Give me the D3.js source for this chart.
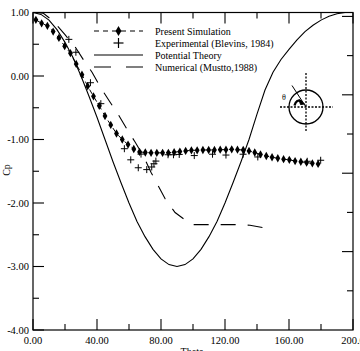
<!DOCTYPE html>
<html><head><meta charset="utf-8">
<script src="https://cdn.jsdelivr.net/npm/d3@7"></script>
<style>body{margin:0;background:#fff}svg{display:block}text{font-family:"Liberation Serif","Times New Roman",serif;fill:#000}</style>
</head><body><svg id="c" width="360" height="351"></svg>
<script>
// ---- data ----
const simTheta = [1.8,5.4,9.0,12.6,16.2,19.8,23.4,27.0,30.6,34.2,37.8,41.4,45.0,48.6,52.2,55.8,59.4,63.0,66.6,70.2,73.8,77.4,81.0,84.6,88.2,91.8,95.4,99.0,102.6,106.2,109.8,113.4,117.0,120.6,124.2,127.8,131.4,135.0,138.6,142.2,145.8,149.4,153.0,156.6,160.2,163.8,167.4,171.0,174.6,178.2];
const simCp = [0.885,0.83,0.79,0.70,0.60,0.47,0.36,0.19,0.02,-0.16,-0.32,-0.47,-0.63,-0.77,-0.905,-1.0,-1.08,-1.15,-1.195,-1.205,-1.21,-1.21,-1.21,-1.21,-1.2,-1.19,-1.18,-1.17,-1.17,-1.165,-1.165,-1.165,-1.16,-1.16,-1.155,-1.16,-1.165,-1.18,-1.205,-1.235,-1.26,-1.28,-1.295,-1.31,-1.32,-1.34,-1.35,-1.365,-1.375,-1.385];
const expTheta = [22.4,26.8,35.9,42.4,57.1,61.1,65.8,71.1,74.2,75.6,76.8,67.5,84.4,87.8,91.4,100.8,112.2,120.6,131.3,140.5,171.4,179.8];
const expCp = [0.577,0.374,-0.106,-0.436,-1.145,-1.32,-1.445,-1.474,-1.433,-1.382,-1.34,-1.23,-1.24,-1.24,-1.235,-1.253,-1.232,-1.245,-1.232,-1.275,-1.343,-1.327];
const potTheta = [0,5,10,15,20,25,30,35,40,45,50,55,60,65,70,75,80,85,90,95,100,105,110,115,120,125,130,135,140,145,150,155,160,165,170,175,180,185,190,195];
const potCp = [1.0,0.97,0.88,0.73,0.53,0.29,0.0,-0.32,-0.65,-1.0,-1.35,-1.68,-2.0,-2.29,-2.53,-2.73,-2.88,-2.97,-3.0,-2.97,-2.88,-2.73,-2.53,-2.29,-2.0,-1.68,-1.35,-1.0,-0.6,-0.22,0.06,0.26,0.42,0.57,0.70,0.80,0.88,0.94,0.98,1.0];
const numTheta = [1.9,6.3,12.5,20,26.3,31.9,36.9,42.5,48.1,53.1,58.8,63.8,68.8,73.8,78.1,82.5,88.8,96.3,99.4,106.3,126.3,135.6,146.3];
const numCp = [1.0,0.99,0.87,0.65,0.46,0.24,0.06,-0.19,-0.41,-0.60,-0.84,-1.04,-1.25,-1.52,-1.72,-1.93,-2.15,-2.29,-2.34,-2.34,-2.34,-2.35,-2.40];
const xTicks = [0,40,80,120,160,200];
const xTickLabels = ["0.00","40.00","80.00","120.00","160.00","200.0"];
const yTicks = [1,0,-1,-2,-3,-4];
const yTickLabels = ["1.00","0.00","-1.00","-2.00","-3.00","-4.00"];
const legendLabels = ["Present Simulation","Experimental (Blevins, 1984)","Potential Theory","Numerical (Mustto,1988)"];

// ---- layout ----
const svg = d3.select("#c");
const L=33, R=353, T=12.5, B=330;
const x = d3.scaleLinear().domain([0,200]).range([L,R]);
const y = d3.scaleLinear().domain([-4,1]).range([B,T]);
const y2 = d3.scaleLinear().domain([0,8.1]).range([B,T]);

// frame
svg.append("rect").attr("x",L).attr("y",T).attr("width",R-L).attr("height",B-T)
  .attr("fill","none").attr("stroke","#000").attr("stroke-width",1.2);

// ticks
const g = svg.append("g").attr("stroke","#000").attr("stroke-width",1.1);
d3.range(0,201,20).forEach(v=>{
  const len = v%40===0?11:6;
  g.append("line").attr("x1",x(v)).attr("x2",x(v)).attr("y1",B).attr("y2",B-len);
  g.append("line").attr("x1",x(v)).attr("x2",x(v)).attr("y1",T).attr("y2",T+len);
});
d3.range(-4,1.01,0.5).forEach(v=>{
  const len = Math.abs(v-Math.round(v))<1e-6?11:6;
  g.append("line").attr("x1",L).attr("x2",L+len).attr("y1",y(v)).attr("y2",y(v));
});
d3.range(1,9).forEach(v=>{
  const len = v%2===0?11:6;
  g.append("line").attr("x1",R).attr("x2",R-len).attr("y1",y2(v)).attr("y2",y2(v));
});

// tick labels
xTicks.forEach((v,i)=>{
  svg.append("text").attr("x",x(v)).attr("y",344).attr("text-anchor","middle")
    .attr("font-size",10.5).text(xTickLabels[i]);
});
yTicks.forEach((v,i)=>{
  svg.append("text").attr("x",29).attr("y",y(v)+3.8).attr("text-anchor","end")
    .attr("font-size",10.5).text(yTickLabels[i]);
});
svg.append("text").attr("x",192).attr("y",355).attr("text-anchor","middle").attr("font-size",10).text("Theta");
svg.append("text").attr("transform","translate(10,170) rotate(-90)").attr("text-anchor","middle").attr("font-size",10).text("Cp");

// lines
const line = d3.line().x(d=>x(d[0])).y(d=>y(d[1]));
svg.append("clipPath").attr("id","pc").append("rect").attr("x",L).attr("y",T).attr("width",R-L).attr("height",B-T);
const pg = svg.append("g").attr("clip-path","url(#pc)");
pg.append("path").datum(potTheta.map((t,i)=>[t,potCp[i]])).attr("d",line)
  .attr("fill","none").attr("stroke","#000").attr("stroke-width",1.1);
pg.append("path").datum(numTheta.map((t,i)=>[t,numCp[i]])).attr("d",line)
  .attr("fill","none").attr("stroke","#000").attr("stroke-width",1.1).attr("stroke-dasharray","15,12");
pg.append("path").datum(simTheta.map((t,i)=>[t,simCp[i]])).attr("d",line)
  .attr("fill","none").attr("stroke","#000").attr("stroke-width",1).attr("stroke-dasharray","5,4");
const diamond = d3.symbol().type(d3.symbolDiamond).size(20);
pg.selectAll(".sim").data(simTheta.map((t,i)=>[t,simCp[i]])).join("path")
  .attr("transform",d=>`translate(${x(d[0])},${y(d[1])})`).attr("d",diamond).attr("fill","#000");
const cross = (gg,cx,cy,s)=>{
  gg.append("line").attr("x1",cx-s).attr("x2",cx+s).attr("y1",cy).attr("y2",cy);
  gg.append("line").attr("x1",cx).attr("x2",cx).attr("y1",cy-s).attr("y2",cy+s);
};
const cg = pg.append("g").attr("stroke","#000").attr("stroke-width",1);
expTheta.forEach((t,i)=>cross(cg,x(t),y(expCp[i]),3.5));

// legend
const lg = svg.append("g");
const lx1=94, lx2=143, ly=[31,43,55,67];
lg.append("line").attr("x1",lx1).attr("x2",lx2).attr("y1",ly[0]).attr("y2",ly[0]).attr("stroke","#000").attr("stroke-width",1.1).attr("stroke-dasharray","5,4");
lg.append("path").attr("transform",`translate(${(lx1+lx2)/2},${ly[0]})`).attr("d",d3.symbol().type(d3.symbolDiamond).size(30)).attr("fill","#000");
const lcg = lg.append("g").attr("stroke","#000").attr("stroke-width",1.2);
cross(lcg,(lx1+lx2)/2,ly[1],5);
lg.append("line").attr("x1",lx1).attr("x2",lx2).attr("y1",ly[2]).attr("y2",ly[2]).attr("stroke","#000").attr("stroke-width",1.1);
lg.append("line").attr("x1",lx1).attr("x2",lx2).attr("y1",ly[3]).attr("y2",ly[3]).attr("stroke","#000").attr("stroke-width",1.1).attr("stroke-dasharray","17,15");
legendLabels.forEach((s,i)=>{
  lg.append("text").attr("x",155).attr("y",ly[i]+3.5).attr("font-size",10).text(s);
});

// inset diagram
const ins = svg.append("g").attr("stroke","#000");
const cx=306, cy=107, r=17;
ins.append("circle").attr("cx",cx).attr("cy",cy).attr("r",r).attr("fill","none").attr("stroke-width",1.3);
ins.append("line").attr("x1",280).attr("x2",333).attr("y1",cy).attr("y2",cy).attr("stroke-width",1.3).attr("stroke-dasharray","2,1.5");
ins.append("line").attr("x1",cx).attr("x2",cx).attr("y1",73).attr("y2",131).attr("stroke-width",1.3).attr("stroke-dasharray","2,1.5");
ins.append("line").attr("x1",cx).attr("y1",cy).attr("x2",292).attr("y2",85.5).attr("stroke-width",1);
ins.append("path").attr("d",`M294.5,105.5 Q296.5,98.5 301.5,101.5`).attr("fill","none").attr("stroke-width",2.4);
ins.append("path").attr("d","M299,99.5 L304.5,104 L300.5,104.5 Z").attr("fill","#000").attr("stroke-width",1);
svg.append("text").attr("x",284).attr("y",100).attr("text-anchor","middle").attr("font-size",8).attr("font-family","DejaVu Sans").text("θ");
</script></body></html>
